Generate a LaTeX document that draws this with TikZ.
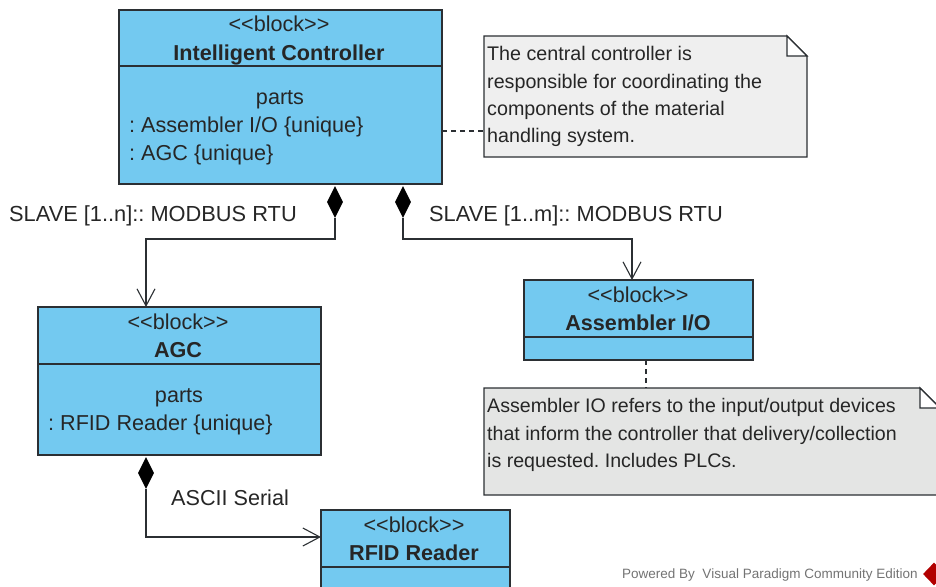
\documentclass[tikz,border=0pt]{standalone}
\usepackage{fontspec}
\setmainfont{Liberation Sans}
\usetikzlibrary{arrows.meta,shapes.geometric}
\definecolor{blockblue}{HTML}{73C9F0}
\definecolor{noteA}{HTML}{EFEFEF}
\definecolor{noteB}{HTML}{E4E5E4}
\definecolor{inkline}{HTML}{2B2F33}
\frenchspacing
\tikzset{
  blockbox/.style={draw=inkline,line width=1.3pt,fill=blockblue,inner sep=0pt},
  txt/.style={font=\fontsize{21.6}{24}\selectfont\frenchspacing,text=black!85,inner sep=0pt,anchor=base},
  txtl/.style={txt,anchor=base west},
  head/.style={txt,font=\fontsize{21.6}{24}\selectfont\bfseries},
  rule/.style={draw=inkline,line width=1.1pt},
  notebox/.style={draw=inkline,line width=1.3pt},
  notetxt/.style={txt,anchor=north west,align=left,font=\fontsize{19.7}{27.3}\selectfont\frenchspacing},
  comp/.style={diamond,fill=black,inner sep=0pt,minimum width=16pt,minimum height=32pt,aspect=0.5},
  link/.style={draw=inkline,line width=1.2pt},
  assoc/.style={link,-{Straight Barb[length=17pt,width=18pt,line width=1.1pt]}},
  anchorline/.style={link,dash pattern=on 5pt off 4pt}
}
\begin{document}
\begin{tikzpicture}[x=1pt,y=-1pt]
\useasboundingbox (0,0) rectangle (936,586);
\clip (0,0) rectangle (936,586);
% blocks
\node[blockbox,minimum width=323pt,minimum height=174pt] (ctrl) at (280.5,97) {};
\node[blockbox,minimum width=283pt,minimum height=148pt] (agc) at (179.5,381) {};
\node[blockbox,minimum width=229pt,minimum height=80pt] (asm) at (638.5,320) {};
\node[blockbox,minimum width=189pt,minimum height=100pt] (rfid) at (415.5,560) {};
\draw[rule] (ctrl.west |- 0,66) -- (ctrl.east |- 0,66);
\draw[rule] (agc.west |- 0,364) -- (agc.east |- 0,364);
\draw[rule] (asm.west |- 0,337) -- (asm.east |- 0,337);
\draw[rule] (rfid.west |- 0,567) -- (rfid.east |- 0,567);
% block texts
\node[txt] (ctrlstereo) at (279,32) {<{}<block>{}>};
\node[head] (ctrlname) at (279,60.5) {Intelligent Controller};
\node[txt] (ctrlparts) at (280,104) {parts};
\node[txtl] (ctrlpartA) at (129,132) {: Assembler I/O \{unique\}};
\node[txtl] (ctrlpartB) at (129,160) {: AGC \{unique\}};
\node[txt] (agcstereo) at (178,329) {<{}<block>{}>};
\node[head] (agcname) at (178,357.5) {AGC};
\node[txt] (agcparts) at (179,402) {parts};
\node[txtl] (agcpartA) at (48,430) {: RFID Reader \{unique\}};
\node[txt] (asmstereo) at (638,302) {<{}<block>{}>};
\node[head] (asmname) at (638,330.5) {Assembler I/O};
\node[txt] (rfidstereo) at (414,532) {<{}<block>{}>};
\node[head] (rfidname) at (414,560.5) {RFID Reader};
% notes
\coordinate (noteAa) at (484,36);
\coordinate (noteAb) at (807,157);
\coordinate (noteBa) at (484,388);
\coordinate (noteBb) at (957,495);
\filldraw[notebox,fill=noteA] (noteAa) -- (787,36) -- (807,56) -- (noteAb) -- (484,157) -- cycle;
\draw[notebox,fill=white] (787,36) -- (787,56) -- (807,56) -- cycle;
\filldraw[notebox,fill=noteB] (noteBa) -- (920,388) -- (940,408) -- (noteBb) -- (484,495) -- cycle;
\draw[notebox,fill=white] (920,388) -- (920,408) -- (940,408) -- cycle;
\node[notetxt] (noteAtxt) at (487,46.5) {The central controller is\\responsible for coordinating the\\components of the material\\handling system.};
\node[notetxt,font=\fontsize{19.6}{27.3}\selectfont\frenchspacing] (noteBtxt) at (487,398.5) {Assembler IO refers to the input/output devices\\that inform the controller that delivery/collection\\is requested. Includes PLCs.};
% connectors
\node[comp] (dmdA) at (335,202) {};
\node[comp] (dmdB) at (403,202) {};
\node[comp] (dmdC) at (146,473) {};
\coordinate (agcin) at (146,307);
\coordinate (asmin) at (632,280);
\coordinate (rfidin) at (321,537);
\coordinate (noteAin) at (484,131);
\coordinate (ctrlout) at (442,131);
\coordinate (asmout) at (646,360);
\coordinate (noteBin) at (646,388);
\draw[assoc] (dmdA.south) |- (146,239) -- (agcin);
\draw[assoc] (dmdB.south) |- (632,239) -- (asmin);
\draw[assoc] (dmdC.south) |- (rfidin);
\draw[anchorline] (ctrlout) -- (noteAin);
\draw[anchorline] (asmout) -- (noteBin);
% labels
\node[txtl,font=\fontsize{21.8}{24}\selectfont\frenchspacing] (slaveA) at (9,221) {SLAVE [1..n]:: MODBUS RTU};
\node[txtl,font=\fontsize{21.8}{24}\selectfont\frenchspacing] (slaveB) at (429,221) {SLAVE [1..m]:: MODBUS RTU};
\node[txtl] (serial) at (171,505) {ASCII Serial};
% footer
\node[txtl,font=\fontsize{13.5}{15}\selectfont\frenchspacing,text=black!55] (footer) at (622,578) {Powered By\ \ Visual Paradigm Community Edition};
\node[diamond,fill=red!70!black,minimum width=22pt,minimum height=23pt,inner sep=0pt] (logo) at (934,574) {};
\end{tikzpicture}
\end{document}
